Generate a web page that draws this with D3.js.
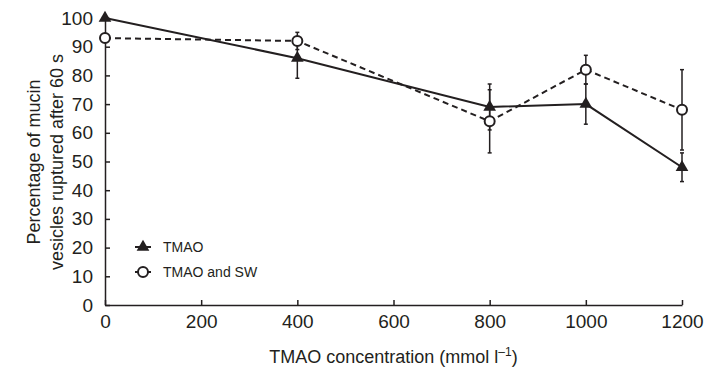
<!DOCTYPE html>
<html>
<head>
<meta charset="utf-8">
<script src="https://cdn.jsdelivr.net/npm/d3@7"></script>
<style>
  body { margin: 0; background: #fff; }
  svg { font-family: "Liberation Sans", Arial, sans-serif; }
  .axis path, .axis line { stroke: #231f20; stroke-width: 1.5; }
  .axis text { font-size: 19px; fill: #231f20; }
</style>
</head>
<body>
<div id="chart"></div>
<script>
// TMAO concentration (mmol l-1)
var concentrations = [0, 400, 800, 1000, 1200];

// TMAO alone (triangles)
var tmaoValues = [100, 86, 69, 70, 48];
var tmaoErrors = [0, 7, 8, 7, 5];

// TMAO and SW (circles)
var tmaoSwValues = [93, 92, 64, 82, 68];
var tmaoSwErrors = [0, 3, 11, 5, 14];

var xTicks = [0, 200, 400, 600, 800, 1000, 1200];
var yTicks = [0, 10, 20, 30, 40, 50, 60, 70, 80, 90, 100];

var width = 708, height = 373;
var margin = {top: 18, right: 26, bottom: 68, left: 105};
var plotW = width - margin.left - margin.right,
    plotH = height - margin.top - margin.bottom;
var ink = "#231f20";

var svg = d3.select("#chart").append("svg")
    .attr("width", width)
    .attr("height", height);

var g = svg.append("g")
    .attr("transform", "translate(" + margin.left + "," + margin.top + ")");

var x = d3.scaleLinear().domain([0, 1200]).range([0, plotW]);
var y = d3.scaleLinear().domain([0, 100]).range([plotH, 0]);

// axes, ticks point inward
g.append("g")
    .attr("class", "axis")
    .attr("transform", "translate(0," + plotH + ")")
    .call(d3.axisBottom(x).tickValues(xTicks).tickFormat(d3.format("d"))
      .tickSizeInner(-5).tickSizeOuter(0).tickPadding(10))
    .selectAll("text").attr("dy", "0.71em");

g.append("g")
    .attr("class", "axis")
    .call(d3.axisLeft(y).tickValues(yTicks).tickSizeInner(-5).tickSizeOuter(0).tickPadding(12));

// series
var series = [
  {name: "TMAO", values: tmaoValues, errors: tmaoErrors, dash: null, marker: "triangle"},
  {name: "TMAO and SW", values: tmaoSwValues, errors: tmaoSwErrors, dash: "6,4", marker: "circle"}
];

function drawMarker(sel, type) {
  if (type === "triangle") {
    sel.append("path")
      .attr("d", d3.symbol().type(d3.symbolTriangle).size(70))
      .attr("fill", ink);
  } else {
    sel.append("circle")
      .attr("r", 5)
      .attr("fill", "#fff")
      .attr("stroke", ink)
      .attr("stroke-width", 2);
  }
}

series.forEach(function(s) {
  var pts = concentrations.map(function(c, i) {
    return {x: c, v: s.values[i], e: s.errors[i]};
  });

  // error bars
  var eb = g.selectAll(null)
    .data(pts.filter(function(d) { return d.e > 0; }))
    .enter().append("g");
  eb.append("line")
    .attr("x1", function(d) { return x(d.x); })
    .attr("x2", function(d) { return x(d.x); })
    .attr("y1", function(d) { return y(d.v - d.e); })
    .attr("y2", function(d) { return y(d.v + d.e); })
    .attr("stroke", ink).attr("stroke-width", 1.5);
  [-1, 1].forEach(function(sign) {
    eb.append("line")
      .attr("x1", function(d) { return x(d.x) - 2; })
      .attr("x2", function(d) { return x(d.x) + 2; })
      .attr("y1", function(d) { return y(d.v + sign * d.e); })
      .attr("y2", function(d) { return y(d.v + sign * d.e); })
      .attr("stroke", ink).attr("stroke-width", 1.5);
  });

  g.append("path")
    .datum(pts)
    .attr("fill", "none")
    .attr("stroke", ink)
    .attr("stroke-width", 2)
    .attr("stroke-dasharray", s.dash)
    .attr("d", d3.line().x(function(d) { return x(d.x); }).y(function(d) { return y(d.v); }));

  g.selectAll(null)
    .data(pts)
    .enter().append("g")
    .attr("transform", function(d) { return "translate(" + x(d.x) + "," + y(d.v) + ")"; })
    .each(function() { drawMarker(d3.select(this), s.marker); });
});

// legend
var legend = svg.append("g").attr("transform", "translate(143,247)");
series.forEach(function(s, i) {
  var row = legend.append("g").attr("transform", "translate(0," + (i * 25) + ")");
  row.append("line")
    .attr("x1", -8).attr("x2", 8)
    .attr("stroke", ink).attr("stroke-width", 2);
  drawMarker(row, s.marker);
  row.append("text")
    .attr("x", 20).attr("dy", "0.35em")
    .attr("font-size", 14)
    .attr("fill", ink)
    .text(s.name);
});

// axis titles
var xt = svg.append("text")
  .attr("x", margin.left + plotW / 2)
  .attr("y", 363)
  .attr("text-anchor", "middle")
  .attr("font-size", 18)
  .attr("fill", ink);
xt.append("tspan").text("TMAO concentration (mmol l");
xt.append("tspan").attr("dy", -7).attr("font-size", 12).text("\u20131");
xt.append("tspan").attr("dy", 7).text(")");

var yt = svg.append("text")
  .attr("transform", "translate(0,162) rotate(-90)")
  .attr("text-anchor", "middle")
  .attr("font-size", 18)
  .attr("fill", ink);
yt.append("tspan").attr("x", 0).attr("y", 40).text("Percentage of mucin");
yt.append("tspan").attr("x", 0).attr("y", 63).text("vesicles ruptured after 60 s");
</script>
</body>
</html>
